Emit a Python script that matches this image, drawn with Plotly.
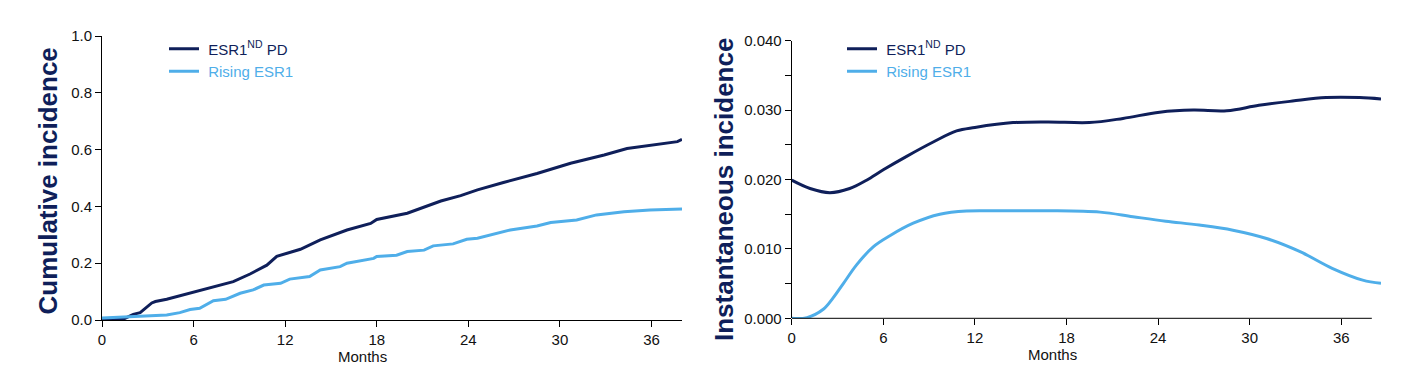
import plotly.graph_objects as go

# ---- data ----
cum_nd_months = [0, 1.4, 2.05, 2.5, 3.26, 3.5, 4.24, 5.3, 6.4, 7.5, 8.6, 9.7, 10.8, 11.45, 12.3, 13.0,
                 14.3, 16.05, 17.6, 18.0, 20.0, 20.85, 22.2, 23.5, 24.6, 26.3, 28.5, 30.7, 32.9, 34.4,
                 36.4, 37.7, 38.0]
cum_nd_values = [0.0, 0.003, 0.020, 0.026, 0.060, 0.065, 0.073, 0.088, 0.102, 0.117, 0.135, 0.162, 0.193,
                 0.224, 0.237, 0.249, 0.282, 0.317, 0.340, 0.354, 0.376, 0.393, 0.419, 0.438, 0.458,
                 0.484, 0.516, 0.552, 0.581, 0.604, 0.619, 0.628, 0.636]

cum_rise_months = [0, 2.5, 4.24, 5.1, 5.77, 6.4, 7.3, 8.1, 9.05, 9.9, 10.6, 11.7, 12.3, 13.6, 14.3, 15.6,
                   16.05, 17.8, 18.0, 19.3, 20.0, 21.1, 21.7, 23.0, 23.9, 24.6, 25.9, 26.75, 28.5, 29.4,
                   31.1, 32.4, 34.2, 35.9, 38.0]
cum_rise_values = [0.007, 0.014, 0.018, 0.026, 0.037, 0.041, 0.068, 0.073, 0.094, 0.106, 0.123, 0.129,
                   0.144, 0.153, 0.176, 0.188, 0.200, 0.217, 0.224, 0.228, 0.241, 0.246, 0.261, 0.268,
                   0.284, 0.288, 0.305, 0.317, 0.331, 0.343, 0.352, 0.370, 0.381, 0.387, 0.391]

inst_nd_months = [0, 1.2, 2.5, 3.8, 4.9, 6.0, 7.5, 9.27, 10.8, 12.0, 14.5, 16.8, 19.5, 21.7, 24.1,
                  26.3, 28.5, 30.6, 32.8, 35.0, 37.2, 38.6]
inst_nd_values = [0.0199, 0.0187, 0.0181, 0.0187, 0.0199, 0.0214, 0.0233, 0.0254, 0.0270, 0.0275,
                  0.0282, 0.0283, 0.0282, 0.0288, 0.0297, 0.0300, 0.0299, 0.0307, 0.0313, 0.0318,
                  0.0318, 0.0316]

inst_rise_months = [0, 1.0, 2.07, 2.7, 3.38, 4.25, 5.34, 6.43, 7.96, 9.7, 11.45, 13.6, 16.8, 20.2,
                    22.35, 24.5, 26.7, 28.9, 31.1, 33.3, 35.4, 37.4, 38.6]
inst_rise_values = [0.0, 0.0001, 0.0013, 0.0029, 0.0050, 0.0077, 0.0103, 0.0119, 0.0137, 0.0150,
                    0.01546, 0.01548, 0.0155, 0.0153, 0.01464, 0.0140, 0.01344, 0.0127, 0.0115,
                    0.0096, 0.0072, 0.0055, 0.00504]

series_names = ["ESR1<sup>ND</sup> PD", "Rising ESR1"]
x_ticks = [0, 6, 12, 18, 24, 30, 36]
left_y_ticks = [0.0, 0.2, 0.4, 0.6, 0.8, 1.0]
right_y_ticks = [0.0, 0.01, 0.02, 0.03, 0.04]

NAVY = "#0f1f5a"
LIGHT = "#4faee9"
W, H = 1402, 386
OFF = 8  # page body margin


def fx(px):
    return (px - OFF) / W


def fy(py):
    return (H - (py - OFF)) / H


fig = go.Figure()
fig.add_trace(go.Scatter(x=cum_nd_months, y=cum_nd_values, mode="lines",
                         name="&nbsp;" + series_names[0], line=dict(color=NAVY, width=3),
                         xaxis="x", yaxis="y", legend="legend"))
fig.add_trace(go.Scatter(x=cum_rise_months, y=cum_rise_values, mode="lines",
                         name=f"&nbsp;<span style='color:{LIGHT}'>{series_names[1]}</span>",
                         line=dict(color=LIGHT, width=3),
                         xaxis="x", yaxis="y", legend="legend"))
fig.add_trace(go.Scatter(x=inst_nd_months, y=inst_nd_values, mode="lines",
                         name="&nbsp;" + series_names[0],
                         line=dict(color=NAVY, width=3, shape="spline", smoothing=1.0),
                         xaxis="x2", yaxis="y2", legend="legend2"))
fig.add_trace(go.Scatter(x=inst_rise_months, y=inst_rise_values, mode="lines",
                         name=f"&nbsp;<span style='color:{LIGHT}'>{series_names[1]}</span>",
                         line=dict(color=LIGHT, width=3, shape="spline", smoothing=1.0),
                         xaxis="x2", yaxis="y2", legend="legend2"))

axis_common = dict(showgrid=False, zeroline=False, showline=True, linecolor="black", linewidth=1,
                   ticks="outside", ticklen=6, tickcolor="black", tickwidth=1, automargin=False,
                   tickfont=dict(family="Liberation Sans, Arial, sans-serif", size=15, color="#111"))

legend_common = dict(xanchor="left", yanchor="top", bgcolor="rgba(0,0,0,0)", itemwidth=30,
                     tracegroupgap=0,
                     font=dict(family="Liberation Sans, Arial, sans-serif", size=15, color=NAVY))

fig.update_layout(
    width=W, height=H,
    margin=dict(l=0, r=0, t=0, b=0, autoexpand=False),
    paper_bgcolor="white", plot_bgcolor="white",
    xaxis=dict(domain=[fx(102), fx(682)], range=[0, 38], tickvals=x_ticks, anchor="y", **axis_common),
    yaxis=dict(domain=[fy(320), fy(36)], range=[0, 1], tickvals=left_y_ticks,
               tickformat=".1f", anchor="x", **axis_common),
    xaxis2=dict(domain=[fx(791.7), fx(1381)], range=[0, 38.6], tickvals=x_ticks, anchor="y2",
                **{**axis_common, "showline": False}),
    yaxis2=dict(domain=[fy(318.3), fy(40.7)], range=[0, 0.04], tickvals=right_y_ticks,
                tickformat=".3f", anchor="x2",
                minor=dict(dtick=0.005, ticks="outside", ticklen=6, tickcolor="black", tickwidth=1),
                **axis_common),
    legend=dict(x=fx(164), y=fy(32.5), **legend_common),
    legend2=dict(x=fx(842), y=fy(32.5), **legend_common),
    shapes=[dict(type="line", xref="x2", yref="y2 domain", x0=0, x1=38, y0=0, y1=0,
                 line=dict(color="black", width=1))],
)

title_font = dict(family="Liberation Sans, Arial, sans-serif", size=26, color=NAVY)
label_font = dict(family="Liberation Sans, Arial, sans-serif", size=15, color="#111")
fig.add_annotation(text="<b>Cumulative incidence</b>", x=fx(47), y=fy(181.5), xref="paper", yref="paper",
                   textangle=-90, showarrow=False, font=title_font, xanchor="center", yanchor="middle")
fig.add_annotation(text="<b>Instantaneous incidence</b>", x=fx(724), y=fy(190), xref="paper", yref="paper",
                   textangle=-90, showarrow=False, font=title_font, xanchor="center", yanchor="middle")
fig.add_annotation(text="Months", x=fx(362), y=fy(356), xref="paper", yref="paper",
                   showarrow=False, font=label_font, xanchor="center", yanchor="middle")
fig.add_annotation(text="Months", x=fx(1052.5), y=fy(354), xref="paper", yref="paper",
                   showarrow=False, font=label_font, xanchor="center", yanchor="middle")

fig.write_html("out.html")
